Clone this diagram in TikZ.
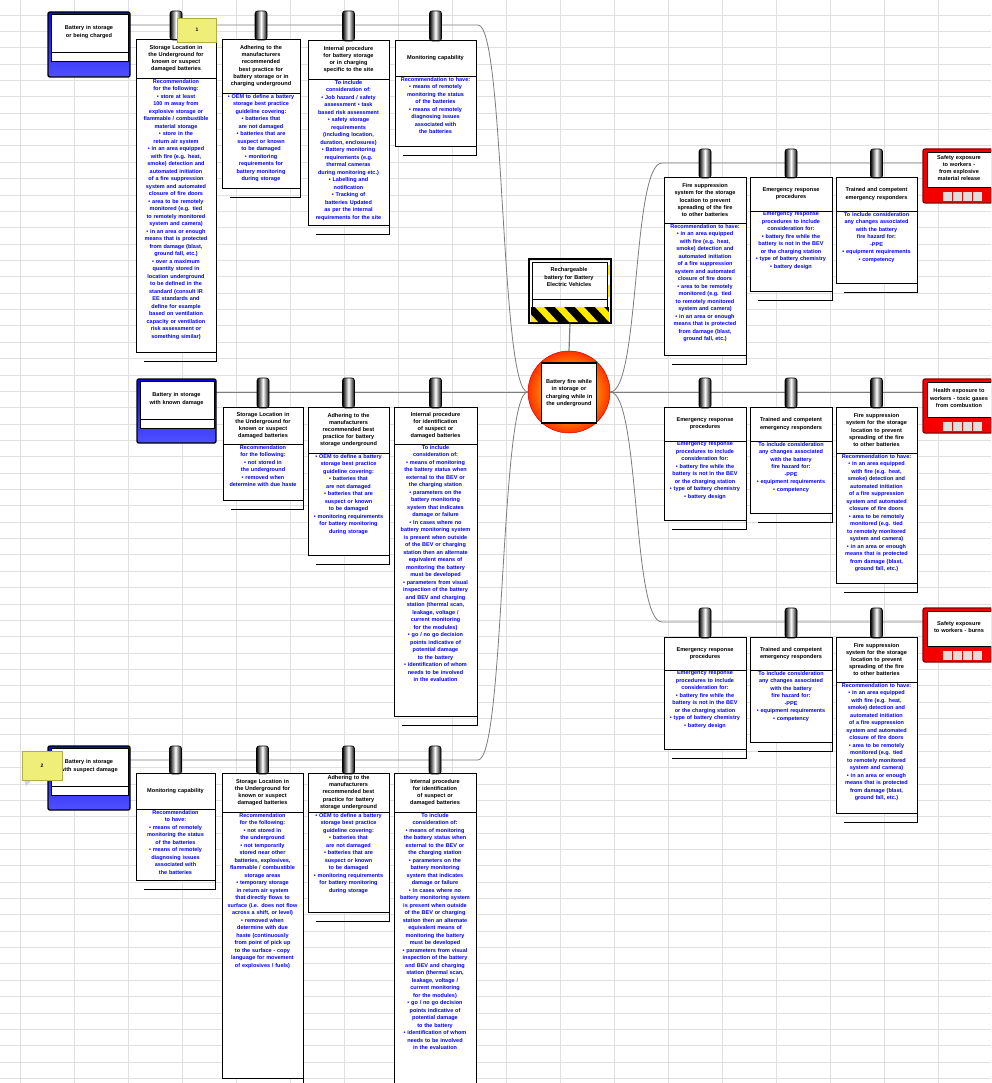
\documentclass[tikz,border=0pt]{standalone}
\usepackage{fontspec}
\setmainfont{Liberation Sans}
\hyphenpenalty=10000
\exhyphenpenalty=10000

\definecolor{gridgray}{RGB}{224,224,224}
\definecolor{conngray}{RGB}{125,125,125}
\definecolor{bodyblue}{RGB}{0,0,255}
\definecolor{noteyellow}{RGB}{238,238,120}
\definecolor{noteedge}{RGB}{175,175,70}
\definecolor{hazyellow}{RGB}{255,235,0}
\definecolor{threatblue}{RGB}{10,10,230}
\definecolor{threatlight}{RGB}{80,80,255}
\definecolor{consred}{RGB}{245,0,0}
\definecolor{consdark}{RGB}{140,0,0}

\pgfdeclareradialshading{firering}{\pgfpoint{0bp}{0bp}}{%
  color(0bp)=(yellow!60!orange); color(17bp)=(orange);
  color(25bp)=(orange!40!red); color(29bp)=(red); color(50bp)=(red)}

\tikzset{
  boxline/.style={draw=black, line width=0.9pt},
  titletext/.style={font=\fontsize{5.6}{7.2}\selectfont\bfseries, align=center, inner sep=0pt, text=black},
  bodytext/.style={font=\fontsize{5.5}{7.5}\selectfont\bfseries, align=center, inner sep=0pt, text=bodyblue},
  conn/.style={draw=conngray, line width=0.8pt},
  clipshade/.style={left color=black, right color=black, middle color=white},
  clipedge/.style={draw=black, line width=0.6pt},
  notebox/.style={fill=noteyellow, draw=noteedge, line width=0.6pt, inner sep=0pt,
    font=\fontsize{5}{6}\selectfont\bfseries},
}

% barrier: name, left, right, line y, top, divider, bottom, title, body
\newcommand\barrierbox[9]{%
  \pgfmathsetmacro\bxmid{(#2+#3)/2}%
  \pgfmathsetmacro\bxw{#3-#2-11}%
  \pgfmathsetmacro\bxtitley{(#5+#6)/2}%
  \fill[white] (#2,#5) rectangle (#3,#7);
  \draw[boxline] ({#2+8},{#7+9}) -- (#3,{#7+9}) -- (#3,#7);
  \shade[clipshade, rounded corners=2.5pt] ({\bxmid-6},{#4-14}) rectangle ({\bxmid+6},{#5+1});
  \draw[clipedge, rounded corners=2.5pt] ({\bxmid-6},{#4-14}) rectangle ({\bxmid+6},{#5+1});
  \node[titletext, text width=63pt] (#1) at (\bxmid,\bxtitley) {#8};
  \node[bodytext, text width=\bxw pt, anchor=north] (#1-body) at (\bxmid,{#6+1}) {#9};
  \draw[boxline] (#2,#5) rectangle (#3,#7);
  \draw[boxline] (#2,#6) -- (#3,#6);
}

% threat: name, left, top, right, bottom, text
\newcommand\threatbox[6]{%
  \shade[top color=threatblue, bottom color=threatlight, rounded corners=2pt] (#2,#3) rectangle (#4,#5);
  \fill[white] ({#2+3},{#3+2.5}) rectangle ({#4-2},{#3+49});
  \draw[line width=0.9pt] ({#2+3},{#3+2.5}) rectangle ({#4-2},{#3+40});
  \draw[line width=0.9pt] ({#2+3},{#3+40}) rectangle ({#4-2},{#3+49});
  \draw[line width=1.4pt, rounded corners=2pt] (#2,#3) rectangle (#4,#5);
  \node[titletext, text width=64pt] (#1) at ({(#2+#4)/2},{#3+20}) {#6};
}

% consequence: name, left, top, right, bottom, text
\newcommand\consbox[6]{%
  \fill[consred, rounded corners=2pt] (#2,#3) rectangle (#4,#5);
  \draw[consdark, line width=1.2pt, rounded corners=2pt] (#2,#3) rectangle (#4,#5);
  \draw[fill=white, line width=0.8pt] ({#2+4},{#3+3}) rectangle ({#4-3},{#3+38});
  \foreach \k in {0,1,2,3} {
    \fill[gray!25] ({#2+20+\k*10},{#3+43}) rectangle ({#2+29+\k*10},{#5-2});
  }
  \node[titletext, text width=60pt] (#1) at ({#2+36},{#3+19}) {#6};
}

\begin{document}
\begin{tikzpicture}[x=1pt,y=-1pt]
\useasboundingbox (0,0) rectangle (991,1083);
\clip (0,0) rectangle (991,1083);
\fill[white] (0,0) rectangle (991,1083);

% spreadsheet grid
\foreach \gx in {20,74,...,992} \draw[gridgray, line width=0.8pt] (\gx,0) -- (\gx,1083);
\foreach \gi in {0,...,66} {
  \pgfmathsetmacro\gy{15+16.36*\gi}
  \draw[gridgray, line width=0.8pt] (0,\gy) -- (991,\gy);
}

% ---------- top event and hazard ----------
\shade[shading=firering] (569,392) circle (41);
\draw[red!85!black, line width=0.5pt] (569,392) circle (41);
\node[circle, minimum size=82pt, inner sep=0pt] (event) at (569,392) {};
\node[draw, fill=white, line width=1.3pt, minimum width=55pt, minimum height=60pt,
      text width=48pt, titletext] (eventlabel) at (569,393)
      {Battery fire while in storage or charging while in the underground};

\node[draw, line width=1.4pt, minimum width=82pt, minimum height=64pt, inner sep=0pt] (hazard) at (570,291) {};
\draw[line width=0.8pt] (532,262) rectangle (607,299);
\draw[line width=0.8pt] (532,299) rectangle (607,307);
\begin{scope}
  \clip (531,307) rectangle (609,322);
  \fill[black] (531,307) rectangle (609,322);
  \foreach \sx in {515,535,...,615} {
    \fill[hazyellow] (\sx,307) -- ({\sx+9},307) -- ({\sx+23},322) -- ({\sx+14},322) -- cycle;
  }
\end{scope}
\draw[hazyellow, line width=1.2pt] (609,265) -- (609,275);
\draw[hazyellow, line width=1.2pt] (609,285) -- (609,297);
\node[titletext, text width=62pt] (hazardlabel) at (569,277)
      {Rechargeable battery for Battery Electric Vehicles};
\draw[conn, line width=1.2pt] (hazard.south) -- (event.north);

% ---------- connectors ----------
\coordinate (t1out) at (130,25);
\coordinate (t1bend) at (478,25);
\coordinate (t2out) at (216,392);
\coordinate (t3out) at (130,760);
\coordinate (t3bend) at (478,760);
\coordinate (c1bend) at (662,163);
\coordinate (c1in) at (923,163);
\coordinate (c2in) at (923,392);
\coordinate (c3bend) at (662,622);
\coordinate (c3in) at (923,622);

\draw[conn] (t1out) -- (t1bend) .. controls (505,25) and (500,392) .. (event.west);
\draw[conn] (t2out) -- (event.west);
\draw[conn] (t3out) -- (t3bend) .. controls (505,760) and (500,392) .. (event.west);
\draw[conn] (event.east) .. controls (640,392) and (632,163) .. (c1bend) -- (c1in);
\draw[conn] (event.east) -- (c2in);
\draw[conn] (event.east) .. controls (640,392) and (632,622) .. (c3bend) -- (c3in);

% ---------- threats ----------
\threatbox{threat1}{48}{12}{130}{77}{Battery in storage or being charged}
\threatbox{threat2}{137}{379}{216}{443}{Battery in storage with known damage}
\threatbox{threat3}{48}{746}{130}{810}{Battery in storage with suspect damage}

% ---------- consequences ----------
\consbox{cons1}{923}{149}{998}{203}{Safety exposure to workers - from explosive material release}
\consbox{cons2}{923}{379}{998}{433}{Health exposure to workers - toxic gases from combustion}
\consbox{cons3}{923}{608}{998}{662}{Safety exposure to workers - burns}

% ---------- barriers on the first threat line ----------
\barrierbox{b1a}{136}{216}{25}{39}{78}{352}
  {Storage Location in the Underground for known or suspect damaged batteries}
  {Recommendation for the following:\\
   • store at least 100 m away from explosive storage or flammable / combustible material storage\\
   • store in the return air system\\
   • in an area equipped with fire (e.g. heat, smoke) detection and automated initiation of a fire suppression system and automated closure of fire doors\\
   • area to be remotely monitored (e.g. tied to remotely monitored system and camera)\\
   • in an area or enough means that is protected from damage (blast, ground fall, etc.)\\
   • over a maximum quantity stored in location underground to be defined in the standard (consult IR EE standards and define for example based on ventilation capacity or ventilation risk assessment or something similar)}
\barrierbox{b1b}{222}{300}{25}{39}{93}{188}
  {Adhering to the manufacturers recommended best practice for battery storage or in charging underground}
  {• OEM to define a battery storage best practice guideline covering:\\
   • batteries that are not damaged\\
   • batteries that are suspect or known to be damaged\\
   • monitoring requirements for battery monitoring during storage}
\barrierbox{b1c}{308}{389}{25}{40}{79}{225}
  {Internal procedure for battery storage or in charging specific to the site}
  {To include consideration of:\\
   • Job hazard / safety assessment • task based risk assessment\\
   • safety storage requirements (including location, duration, enclosures)\\
   • Battery monitoring requirements (e.g. thermal cameras during monitoring etc.)\\
   • Labelling and notification\\
   • Tracking of batteries Updated as per the internal requirements for the site}
\barrierbox{b1d}{395}{476}{25}{40}{76}{146}
  {Monitoring capability}
  {Recommendation to have:\\
   • means of remotely monitoring the status of the batteries\\
   • means of remotely diagnosing issues associated with the batteries}

% ---------- barriers on the second threat line ----------
\barrierbox{b2a}{223}{303}{392}{407}{444}{500}
  {Storage Location in the Underground for known or suspect damaged batteries}
  {Recommendation for the following:\\
   • not stored in the underground\\
   • removed when determine with due haste}
\barrierbox{b2b}{308}{389}{392}{407}{453}{555}
  {Adhering to the manufacturers recommended best practice for battery storage underground}
  {• OEM to define a battery storage best practice guideline covering:\\
   • batteries that are not damaged\\
   • batteries that are suspect or known to be damaged\\
   • monitoring requirements for battery monitoring during storage}
\barrierbox{b2c}{394}{477}{392}{407}{444}{716}
  {Internal procedure for identification of suspect or damaged batteries}
  {To include consideration of:\\
   • means of monitoring the battery status when external to the BEV or the charging station\\
   • parameters on the battery monitoring system that indicates damage or failure\\
   • In cases where no battery monitoring system is present when outside of the BEV or charging station then an alternate equivalent means of monitoring the battery must be developed\\
   • parameters from visual inspection of the battery and BEV and charging station (thermal scan, leakage, voltage / current monitoring for the modules)\\
   • go / no go decision points indicative of potential damage to the battery\\
   • identification of whom needs to be involved in the evaluation}

% ---------- barriers on the third threat line ----------
\barrierbox{b3a}{136}{215}{760}{773}{809}{880}
  {Monitoring capability}
  {Recommendation to have:\\
   • means of remotely monitoring the status of the batteries\\
   • means of remotely diagnosing issues associated with the batteries}
\barrierbox{b3b}{222}{303}{760}{773}{812}{1078}
  {Storage Location in the Underground for known or suspect damaged batteries}
  {Recommendation for the following:\\
   • not stored in the underground\\
   • not temporarily stored near other batteries, explosives, flammable / combustible storage areas\\
   • temporary storage in return air system that directly flows to surface (i.e. does not flow across a shift, or level)\\
   • removed when determine with due haste (continuously from point of pick up to the surface - copy language for movement of explosives / fuels)}
\barrierbox{b3c}{308}{389}{760}{773}{812}{912}
  {Adhering to the manufacturers recommended best practice for battery storage underground}
  {• OEM to define a battery storage best practice guideline covering:\\
   • batteries that are not damaged\\
   • batteries that are suspect or known to be damaged\\
   • monitoring requirements for battery monitoring during storage}
\barrierbox{b3d}{394}{476}{760}{773}{812}{1090}
  {Internal procedure for identification of suspect or damaged batteries}
  {To include consideration of:\\
   • means of monitoring the battery status when external to the BEV or the charging station\\
   • parameters on the battery monitoring system that indicates damage or failure\\
   • In cases where no battery monitoring system is present when outside of the BEV or charging station then an alternate equivalent means of monitoring the battery must be developed\\
   • parameters from visual inspection of the battery and BEV and charging station (thermal scan, leakage, voltage / current monitoring for the modules)\\
   • go / no go decision points indicative of potential damage to the battery\\
   • identification of whom needs to be involved in the evaluation}

% ---------- barriers on the consequence lines ----------
\barrierbox{r1a}{664}{746}{163}{177}{223}{355}
  {Fire suppression system for the storage location to prevent spreading of the fire to other batteries}
  {Recommendation to have:\\
   • in an area equipped with fire (e.g. heat, smoke) detection and automated initiation of a fire suppression system and automated closure of fire doors\\
   • area to be remotely monitored (e.g. tied to remotely monitored system and camera)\\
   • in an area or enough means that is protected from damage (blast, ground fall, etc.)}
\barrierbox{r1b}{750}{832}{163}{177}{211}{291}
  {Emergency response procedures}
  {Emergency response procedures to include consideration for:\\
   • battery fire while the battery is not in the BEV or the charging station\\
   • type of battery chemistry\\
   • battery design}
\barrierbox{r1c}{836}{917}{163}{177}{211}{283}
  {Trained and competent emergency responders}
  {To include consideration any changes associated with the battery fire hazard for:\\
   -PPE\\
   • equipment requirements\\
   • competency}

\barrierbox{r2a}{664}{746}{392}{407}{441}{520}
  {Emergency response procedures}
  {Emergency response procedures to include consideration for:\\
   • battery fire while the battery is not in the BEV or the charging station\\
   • type of battery chemistry\\
   • battery design}
\barrierbox{r2b}{750}{832}{392}{407}{441}{513}
  {Trained and competent emergency responders}
  {To include consideration any changes associated with the battery fire hazard for:\\
   -PPE\\
   • equipment requirements\\
   • competency}
\barrierbox{r2c}{836}{917}{392}{407}{453}{583}
  {Fire suppression system for the storage location to prevent spreading of the fire to other batteries}
  {Recommendation to have:\\
   • in an area equipped with fire (e.g. heat, smoke) detection and automated initiation of a fire suppression system and automated closure of fire doors\\
   • area to be remotely monitored (e.g. tied to remotely monitored system and camera)\\
   • in an area or enough means that is protected from damage (blast, ground fall, etc.)}

\barrierbox{r3a}{664}{746}{622}{637}{670}{749}
  {Emergency response procedures}
  {Emergency response procedures to include consideration for:\\
   • battery fire while the battery is not in the BEV or the charging station\\
   • type of battery chemistry\\
   • battery design}
\barrierbox{r3b}{750}{832}{622}{637}{670}{742}
  {Trained and competent emergency responders}
  {To include consideration any changes associated with the battery fire hazard for:\\
   -PPE\\
   • equipment requirements\\
   • competency}
\barrierbox{r3c}{836}{917}{622}{637}{682}{813}
  {Fire suppression system for the storage location to prevent spreading of the fire to other batteries}
  {Recommendation to have:\\
   • in an area equipped with fire (e.g. heat, smoke) detection and automated initiation of a fire suppression system and automated closure of fire doors\\
   • area to be remotely monitored (e.g. tied to remotely monitored system and camera)\\
   • in an area or enough means that is protected from damage (blast, ground fall, etc.)}

% ---------- notes ----------
\node[notebox, minimum width=39pt, minimum height=24pt] (note1) at (197,30) {1};
\fill[gray!35] (23,777) -- (33,779) -- (26,786) -- cycle;
\node[notebox, minimum width=40pt, minimum height=29pt] (note2) at (42,765.5) {2};
\end{tikzpicture}
\end{document}
